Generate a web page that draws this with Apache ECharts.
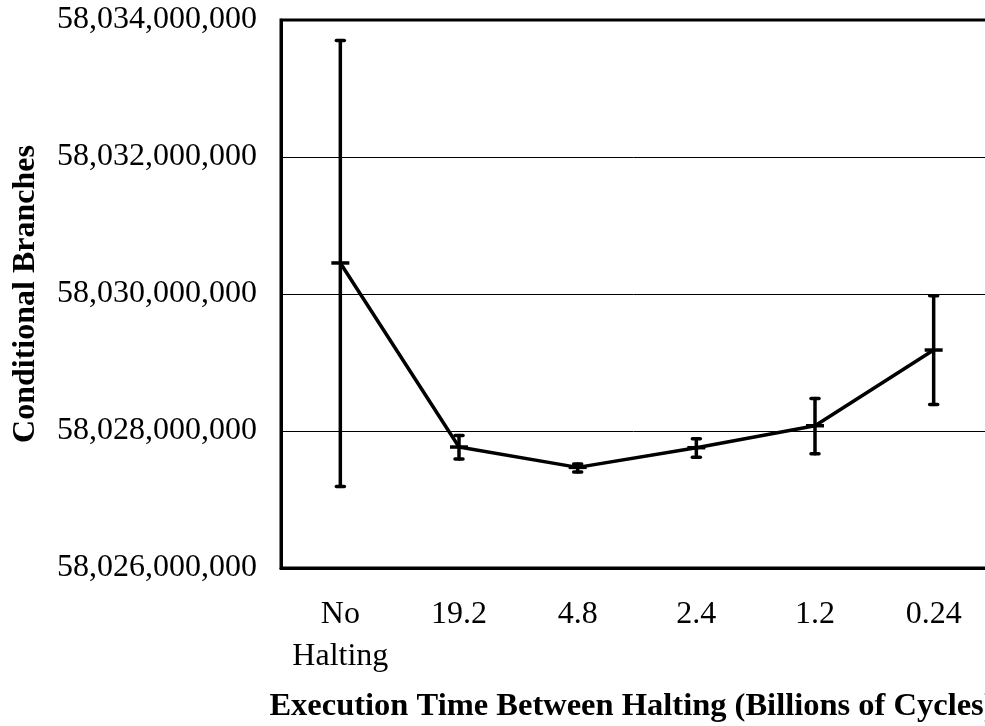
<!DOCTYPE html>
<html>
<head>
<meta charset="utf-8">
<script src="https://cdn.jsdelivr.net/npm/echarts@6/dist/echarts.min.js"></script>
<style>
html,body{margin:0;padding:0;background:#fff;}
#chart{width:985px;height:726px;}
</style>
</head>
<body>
<div id="chart"></div>
<script>
const categories = ['No\nHalting', '19.2', '4.8', '2.4', '1.2', '0.24'];
const meanValues = [58030453000, 58027766000, 58027469000, 58027756000, 58028077000, 58029182000];
const upperValues = [58033702000, 58027936000, 58027518000, 58027888000, 58028476000, 58029975000];
const lowerValues = [58027191000, 58027591000, 58027401000, 58027615000, 58027669000, 58028388000];
const yTicks = { min: 58026000000, max: 58034000000, interval: 2000000 };

const errorData = categories.map((c, i) => [i, lowerValues[i], upperValues[i], meanValues[i]]);
const FONT = '"Liberation Serif", "Times New Roman", serif';

const chart = echarts.init(document.getElementById('chart'), null, { renderer: 'canvas' });
chart.setOption({
  animation: false,
  backgroundColor: '#fff',
  grid: {
    left: 281, top: 20, width: 712, height: 548,
    containLabel: false, outerBoundsMode: 'none',
    show: true, borderColor: '#000', borderWidth: 3, backgroundColor: 'transparent'
  },
  xAxis: {
    type: 'category',
    data: categories,
    boundaryGap: true,
    axisLine: { show: true, lineStyle: { color: '#000', width: 3 } },
    axisTick: { show: false },
    axisLabel: { interval: 0, color: '#000', fontFamily: FONT, fontSize: 32, lineHeight: 42, margin: 26 },
    name: 'Execution Time Between Halting (Billions of Cycles)',
    nameLocation: 'middle',
    nameGap: 122,
    nameMoveOverlap: false,
    nameTextStyle: { color: '#000', fontFamily: FONT, fontSize: 32.5, fontWeight: 'bold', padding: [0, 10, 0, 0] }
  },
  yAxis: {
    type: 'value',
    min: yTicks.min, max: yTicks.max, interval: yTicks.interval,
    axisLine: { show: true, lineStyle: { color: '#000', width: 3 } },
    axisTick: { show: false },
    splitLine: { show: true, lineStyle: { color: '#000', width: 1 } },
    axisLabel: {
      color: '#000', fontFamily: FONT, fontSize: 32, margin: 24,
      formatter: v => Number(v).toLocaleString('en-US')
    },
    name: 'Conditional Branches',
    nameLocation: 'middle',
    nameGap: 239,
    nameMoveOverlap: false,
    nameTextStyle: { color: '#000', fontFamily: FONT, fontSize: 32, fontWeight: 'bold' }
  },
  series: [
    {
      type: 'line',
      data: meanValues,
      symbol: 'none',
      lineStyle: { color: '#000', width: 3.5 },
      z: 3
    },
    {
      type: 'custom',
      data: errorData,
      z: 4,
      renderItem: function (params, api) {
        const x = api.value(0);
        const lo = api.coord([x, api.value(1)]);
        const hi = api.coord([x, api.value(2)]);
        const mid = api.coord([x, api.value(3)]);
        const cap = 4, tick = 9;
        const st = { stroke: '#000', lineWidth: 3.5, lineCap: 'round' };
        return {
          type: 'group',
          children: [
            { type: 'line', shape: { x1: lo[0], y1: lo[1], x2: hi[0], y2: hi[1] }, style: st },
            { type: 'line', shape: { x1: hi[0] - cap, y1: hi[1], x2: hi[0] + cap, y2: hi[1] }, style: st },
            { type: 'line', shape: { x1: lo[0] - cap, y1: lo[1], x2: lo[0] + cap, y2: lo[1] }, style: st },
            { type: 'line', shape: { x1: mid[0] - tick, y1: mid[1], x2: mid[0] + tick, y2: mid[1] }, style: { stroke: '#000', lineWidth: 3.5 } }
          ]
        };
      }
    }
  ]
});
</script>
</body>
</html>
